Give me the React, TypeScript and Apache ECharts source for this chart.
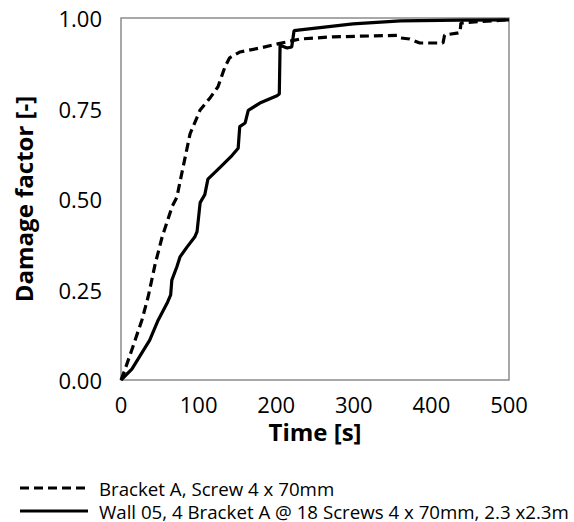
import React, { useEffect, useRef } from "react";
import * as echarts from "echarts";

const bracketTime = [0, 5, 15, 27, 35, 44, 53, 66, 72, 76, 89, 102, 115, 125, 134, 140, 153, 179, 205, 231, 273, 356, 360, 372, 385, 415, 417, 433, 437, 438, 460, 500];
const bracketDamage = [0, 0.028, 0.09, 0.166, 0.23, 0.32, 0.395, 0.48, 0.505, 0.547, 0.68, 0.746, 0.78, 0.81, 0.865, 0.89, 0.906, 0.917, 0.93, 0.942, 0.948, 0.952, 0.945, 0.942, 0.931, 0.931, 0.953, 0.958, 0.96, 0.986, 0.99, 0.995];

const wallTime = [0, 14, 37, 48, 60, 64, 65.5, 72, 76, 85, 95, 98, 99, 102, 108, 112, 128, 143, 151, 153, 160, 164, 179, 201, 204, 205, 214, 220, 223, 231, 299, 360, 437, 500];
const wallDamage = [0, 0.03, 0.11, 0.166, 0.215, 0.235, 0.276, 0.313, 0.34, 0.367, 0.395, 0.41, 0.43, 0.49, 0.512, 0.555, 0.588, 0.62, 0.64, 0.7, 0.71, 0.745, 0.765, 0.785, 0.79, 0.925, 0.917, 0.92, 0.965, 0.967, 0.984, 0.992, 0.994, 0.995];

const seriesNames = ["Bracket A, Screw 4 x 70mm", "Wall 05, 4 Bracket A @ 18 Screws 4 x 70mm, 2.3 x2.3m"];
const xTicks = [0, 100, 200, 300, 400, 500];
const yTicks = [0, 0.25, 0.5, 0.75, 1.0];

const FONT = "'Open Sans', sans-serif";
const DASH = [9, 5];

export default function App() {
  const ref = useRef<HTMLDivElement>(null);
  useEffect(() => {
    if (!ref.current) return;
    const chart = echarts.init(ref.current, undefined, { renderer: "svg" });
    chart.setOption({
      animation: false,
      backgroundColor: "#ffffff",
      textStyle: { fontFamily: FONT, color: "#000" },
      grid: {
        left: 121,
        top: 18,
        right: 65,
        bottom: 142,
        show: true,
        borderColor: "#8c8c8c",
        borderWidth: 1.5,
        containLabel: false,
      },
      xAxis: {
        type: "value",
        min: xTicks[0],
        max: xTicks[xTicks.length - 1],
        interval: 100,
        name: "Time [s]",
        nameLocation: "middle",
        nameGap: 39,
        nameTextStyle: { fontFamily: FONT, fontSize: 24, fontWeight: "bold", color: "#000" },
        axisLine: { show: false },
        axisTick: { show: false },
        splitLine: { show: false },
        axisLabel: { fontFamily: FONT, fontSize: 22, color: "#000", margin: 13 },
      },
      yAxis: {
        type: "value",
        min: yTicks[0],
        max: yTicks[yTicks.length - 1],
        interval: 0.25,
        name: "Damage factor [-]",
        nameLocation: "middle",
        nameGap: 86,
        nameTextStyle: { fontFamily: FONT, fontSize: 24, fontWeight: "bold", color: "#000" },
        axisLine: { show: false },
        axisTick: { show: false },
        splitLine: { show: false },
        axisLabel: {
          fontFamily: FONT,
          fontSize: 22,
          color: "#000",
          margin: 19,
          formatter: (v: number) => v.toFixed(2),
        },
      },
      graphic: [
        {
          type: "line",
          shape: { x1: 20, y1: 488, x2: 88, y2: 488 },
          style: { stroke: "#000", lineWidth: 3, lineDash: DASH },
        },
        {
          type: "text",
          x: 99,
          y: 488,
          style: { text: seriesNames[0], fontFamily: FONT, fontSize: 18.7, fill: "#000", verticalAlign: "middle", align: "left" },
        },
        {
          type: "line",
          shape: { x1: 20, y1: 511, x2: 88, y2: 511 },
          style: { stroke: "#000", lineWidth: 3 },
        },
        {
          type: "text",
          x: 99,
          y: 511,
          style: { text: seriesNames[1], fontFamily: FONT, fontSize: 18.7, fill: "#000", verticalAlign: "middle", align: "left" },
        },
      ],
      series: [
        {
          name: seriesNames[0],
          type: "line",
          showSymbol: false,
          symbol: "none",
          lineStyle: { color: "#000", width: 3.2, type: DASH },
          itemStyle: { color: "#000" },
          data: bracketTime.map((t, i) => [t, bracketDamage[i]]),
        },
        {
          name: seriesNames[1],
          type: "line",
          showSymbol: false,
          symbol: "none",
          lineStyle: { color: "#000", width: 3.2, type: "solid" },
          itemStyle: { color: "#000" },
          data: wallTime.map((t, i) => [t, wallDamage[i]]),
        },
      ],
    });
    return () => chart.dispose();
  }, []);
  return <div ref={ref} style={{ position: "fixed", left: 0, top: 0, width: 574, height: 522 }} />;
}
